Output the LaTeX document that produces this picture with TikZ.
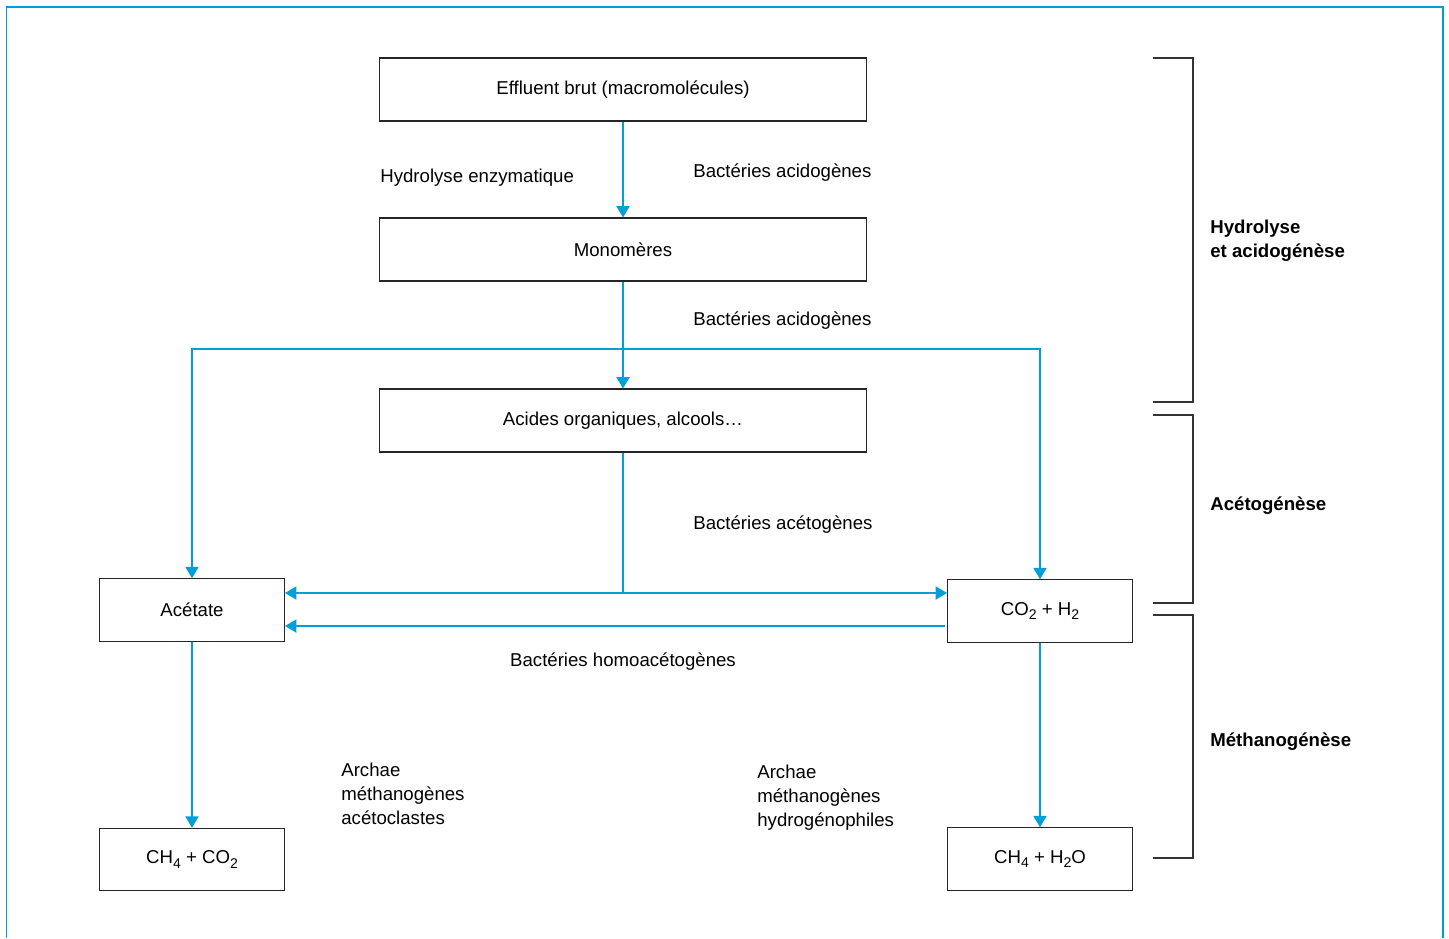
\documentclass[tikz,border=0pt]{standalone}
\usepackage{fontspec}
\setmainfont{Liberation Sans}
\usepackage{tikz}
\usetikzlibrary{arrows.meta}

\definecolor{flowblue}{RGB}{0,160,214}
\newcommand{\chemsub}[1]{\raisebox{-0.45ex}{\fontsize{8}{8}\selectfont #1}}
\tikzset{
  stage/.style={draw=black!85, line width=0.6pt, minimum width=9.74cm, minimum height=1.26cm, inner sep=0pt},
  product/.style={draw=black!85, line width=0.6pt, minimum width=3.7cm, minimum height=1.25cm, inner sep=0pt},
  flow/.style={flowblue, line width=0.8pt, -{Triangle[length=6.5pt,width=7.5pt]}},
  link/.style={flowblue, line width=0.8pt},
  brace/.style={black!80, line width=0.7pt},
  note/.style={anchor=west, inner sep=0pt, align=left},
  phase/.style={anchor=west, inner sep=0pt, align=left, font=\bfseries\fontsize{10.6}{13.7}\selectfont}
}

\begin{document}
\begin{tikzpicture}[x=0.02cm, y=-0.02cm, font=\fontsize{10.6}{13.7}\selectfont]
        \useasboundingbox (0,0) rectangle (1449,938);
        % cadre
        \draw [flowblue, line width=1pt] (6.5,938) -- (6.5,7) -- (1443,7) -- (1443,938);

        % etapes
        \node [stage] (effluent) at (623,89.5) {Effluent brut (macromolécules)};
        \node [stage] (mono) at (623,249.5) {Monomères};
        \node [stage] (acides) at (623,420.5) {Acides organiques, alcools…};
        \node [product] (acetate) at (192,610) {Acétate};
        \node [product] (co2) at (1040,611) {CO\chemsub{2} + H\chemsub{2}};
        \node [product] (ch4a) at (192,859.5) {CH\chemsub{4} + CO\chemsub{2}};
        \node [product] (ch4b) at (1040,859) {CH\chemsub{4} + H\chemsub{2}O};

        % fleches
        \coordinate (fork) at (623,349);
        \coordinate (split) at (623,593);
        \coordinate (homo) at (945,626);
        \draw [flow] (effluent) -- (mono);
        \draw [flow] (mono) -- (acides);
        \draw [flow] (fork) -| (acetate.north);
        \draw [flow] (fork) -| (co2.north);
        \draw [link] (acides) -- (split);
        \draw [flow] (split) -- (split -| acetate.east);
        \draw [flow] (split) -- (split -| co2.west);
        \draw [flow] (homo) -- (homo -| acetate.east);
        \draw [flow] (acetate) -- (ch4a);
        \draw [flow] (co2) -- (ch4b);

        % textes
        \node [note] (hydro) at (380,178) {Hydrolyse enzymatique};
        \node [note] (acido1) at (693,173) {Bactéries acidogènes};
        \node [note] (acido2) at (693,321) {Bactéries acidogènes};
        \node [note] (aceto) at (693,525) {Bactéries acétogènes};
        \node [inner sep=0pt] (homoaceto) at (623,662) {Bactéries homoacétogènes};
        \node [note] (archa) at (341,794) {Archae\\méthanogènes\\acétoclastes};
        \node [note] (archb) at (757,798) {Archae\\méthanogènes\\hydrogénophiles};

        % phases
        \draw [brace] (1153,58) -- (1193,58) -- (1193,402) -- (1153,402);
        \draw [brace] (1153,415) -- (1193,415) -- (1193,603) -- (1153,603);
        \draw [brace] (1153,615) -- (1193,615) -- (1193,858) -- (1153,858);
        \node [phase] (ph1) at (1210,241) {Hydrolyse\\et acidogénèse};
        \node [phase] (ph2) at (1210,506) {Acétogénèse};
        \node [phase] (ph3) at (1210,742) {Méthanogénèse};
    \end{tikzpicture}
\end{document}
